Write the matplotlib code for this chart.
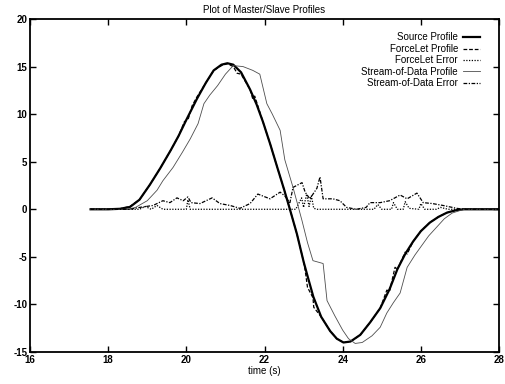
import matplotlib
matplotlib.use("Agg")
import matplotlib.pyplot as plt

plt.rcParams['font.family'] = ['Liberation Sans', 'DejaVu Sans']
plt.rcParams['axes.unicode_minus'] = False

# ---- data ----
src_t = [17.55, 18.0, 18.3, 18.56, 18.8, 19.07, 19.33, 19.6, 19.8, 20.0, 20.27, 20.5,
         20.7, 20.9, 21.05, 21.2, 21.4, 21.63, 21.8, 21.96, 22.15, 22.32, 22.5, 22.65,
         22.83, 23.0, 23.1, 23.25, 23.45, 23.68, 23.85, 24.02, 24.2, 24.45, 24.7, 24.96,
         25.2, 25.4, 25.6, 25.8, 26.0, 26.23, 26.45, 26.67, 26.9, 27.1, 28.0]
src_v = [0, 0, 0.05, 0.25, 1.0, 2.6, 4.3, 6.2, 7.7, 9.4, 11.6, 13.3,
         14.6, 15.2, 15.35, 15.2, 14.4, 12.6, 11.0, 9.2, 6.8, 4.5, 2.1, 0.0,
         -2.6, -5.5, -7.0, -9.2, -11.3, -12.8, -13.6, -14.0, -13.9, -13.2, -11.9, -10.4,
         -8.4, -6.3, -4.7, -3.4, -2.3, -1.4, -0.8, -0.35, -0.1, 0, 0]

fl_t = [17.55, 18.0, 18.3, 18.56, 18.8, 19.07, 19.33, 19.6, 19.8, 19.95, 20.05, 20.15,
        20.27, 20.5, 20.7, 20.9, 21.05, 21.2, 21.3, 21.4, 21.63, 21.7, 21.75, 21.96,
        22.15, 22.32, 22.5, 22.65, 22.83, 23.0, 23.04, 23.1, 23.24, 23.26, 23.45, 23.68,
        23.85, 24.02, 24.2, 24.45, 24.7, 24.96, 25.13, 25.2, 25.34, 25.4, 25.6, 25.65,
        25.8, 26.0, 26.23, 26.45, 26.67, 26.9, 27.1, 28.0]
fl_v = [0, 0, 0.05, 0.3, 1.0, 2.6, 4.3, 6.2, 7.7, 9.2, 9.5, 10.9,
        11.8, 13.3, 14.6, 15.1, 15.3, 15.0, 14.3, 14.2, 12.6, 11.6, 11.9, 9.2,
        6.8, 4.5, 2.1, 0.0, -2.6, -5.5, -6.4, -8.2, -9.3, -10.3, -11.3, -12.8,
        -13.6, -14.0, -13.9, -13.2, -11.9, -10.4, -8.5, -8.6, -6.1, -6.3, -4.5, -4.7,
        -3.4, -2.3, -1.4, -0.8, -0.35, -0.1, 0, 0]

fle_t = [17.55, 18.8, 18.95, 19.1, 19.25, 19.4, 20.0, 20.04, 20.1, 22.8, 22.95, 23.0,
         23.08, 23.14, 23.2, 23.26, 23.35, 24.8, 24.9, 25.0, 25.25, 25.3, 25.4, 25.55,
         25.6, 25.7, 25.95, 26.0, 26.1, 26.4, 26.5, 26.7, 28.0]
fle_v = [0, 0, 0.3, 0, 0.4, 0, 0, 1.0, 0, 0, 1.2, 0.2,
         1.6, 0.3, 1.4, 0.1, 0, 0, 0.5, 0, 0, 0.7, 0, 0,
         0.8, 0.1, 0, 0.6, 0, 0, 0.2, 0, 0]

sd_t = [17.55, 18.5, 18.7, 19.0, 19.25, 19.4, 19.66, 19.9, 20.1, 20.3, 20.45, 20.6,
        20.8, 21.0, 21.2, 21.45, 21.7, 21.88, 22.06, 22.2, 22.4, 22.52, 22.73, 22.96,
        23.1, 23.24, 23.5, 23.6, 23.8, 24.0, 24.15, 24.32, 24.5, 24.75, 24.96, 25.13,
        25.3, 25.47, 25.65, 25.85, 26.06, 26.2, 26.4, 26.6, 26.8, 27.1, 28.0]
sd_v = [0, 0, 0.2, 0.9, 2.0, 3.0, 4.4, 6.0, 7.4, 9.0, 11.1, 12.0,
        13.0, 14.2, 15.1, 15.0, 14.6, 14.2, 11.1, 10.0, 8.3, 5.2, 2.3, -1.2,
        -3.5, -5.4, -5.7, -9.6, -11.2, -12.7, -13.6, -14.1, -14.0, -13.3, -12.4, -10.9,
        -9.8, -8.8, -6.1, -4.8, -3.6, -2.8, -1.9, -1.0, -0.4, 0, 0]

sde_t = [17.55, 18.56, 18.81, 19.15, 19.4, 19.58, 19.76, 19.92, 20.04, 20.12, 20.35,
         20.66, 20.86, 21.12, 21.37, 21.63, 21.83, 22.14, 22.4, 22.52, 22.65, 22.73,
         22.96, 23.04, 23.16, 23.34, 23.42, 23.5, 23.75, 23.93, 24.1, 24.35, 24.6, 24.7,
         24.96, 25.2, 25.47, 25.65, 25.9, 26.06, 26.3, 26.57, 26.92, 27.1, 28.0]
sde_v = [0, 0, 0.2, 0.4, 0.9, 0.7, 1.2, 0.9, 1.3, 0.7, 0.6,
         1.2, 0.6, 0.4, 0.1, 0.6, 1.6, 1.1, 1.8, 1.4, 0.7, 2.3,
         2.8, 1.8, 1.1, 2.2, 3.4, 1.1, 1.1, 0.9, 0.2, 0.0, 0.2, 0.7,
         0.7, 0.9, 1.5, 1.1, 1.7, 0.7, 0.6, 0.4, 0.1, 0, 0]

fig = plt.figure(figsize=(5.06, 3.84), dpi=100)
ax = fig.add_axes([30 / 506, 1 - 352 / 384, 469 / 506, 333 / 384])

ax.plot(src_t, src_v, color='black', lw=1.6, label='Source Profile')
ax.plot(fl_t, fl_v, color='black', lw=0.9, ls=(0, (3, 1.5)), label='ForceLet Profile')
ax.plot(fle_t, fle_v, color='black', lw=0.9, ls=(0, (1, 1.2)), label='ForceLet Error')
ax.plot(sd_t, sd_v, color='0.3', lw=0.6, label='Stream-of-Data Profile')
ax.plot(sde_t, sde_v, color='black', lw=0.9, ls=(0, (3, 1.2, 1, 1.2)), label='Stream-of-Data Error')

ax.set_xlim(16, 28)
ax.set_ylim(-15, 20)
ax.set_xticks(range(16, 29, 2))
ax.set_yticks(range(-15, 21, 5))
ax.tick_params(direction='in', top=True, right=True, length=4, width=1,
               labelsize=7, pad=2)
for lab in ax.get_xticklabels() + ax.get_yticklabels():
    lab.set_fontweight('bold')
for s in ax.spines.values():
    s.set_linewidth(1.3)

ax.set_title('Plot of Master/Slave Profiles', fontsize=7, pad=4)
ax.set_xlabel('time (s)', fontsize=7, labelpad=1)

ax.legend(loc='upper right', bbox_to_anchor=(0.975, 0.98), frameon=False,
          markerfirst=False, fontsize=7, handlelength=1.8, handletextpad=0.5,
          labelspacing=0.15, borderpad=0.2)
for t in ax.get_legend().get_texts():
    t.set_ha('right')

fig.savefig('out.png', dpi=100)
